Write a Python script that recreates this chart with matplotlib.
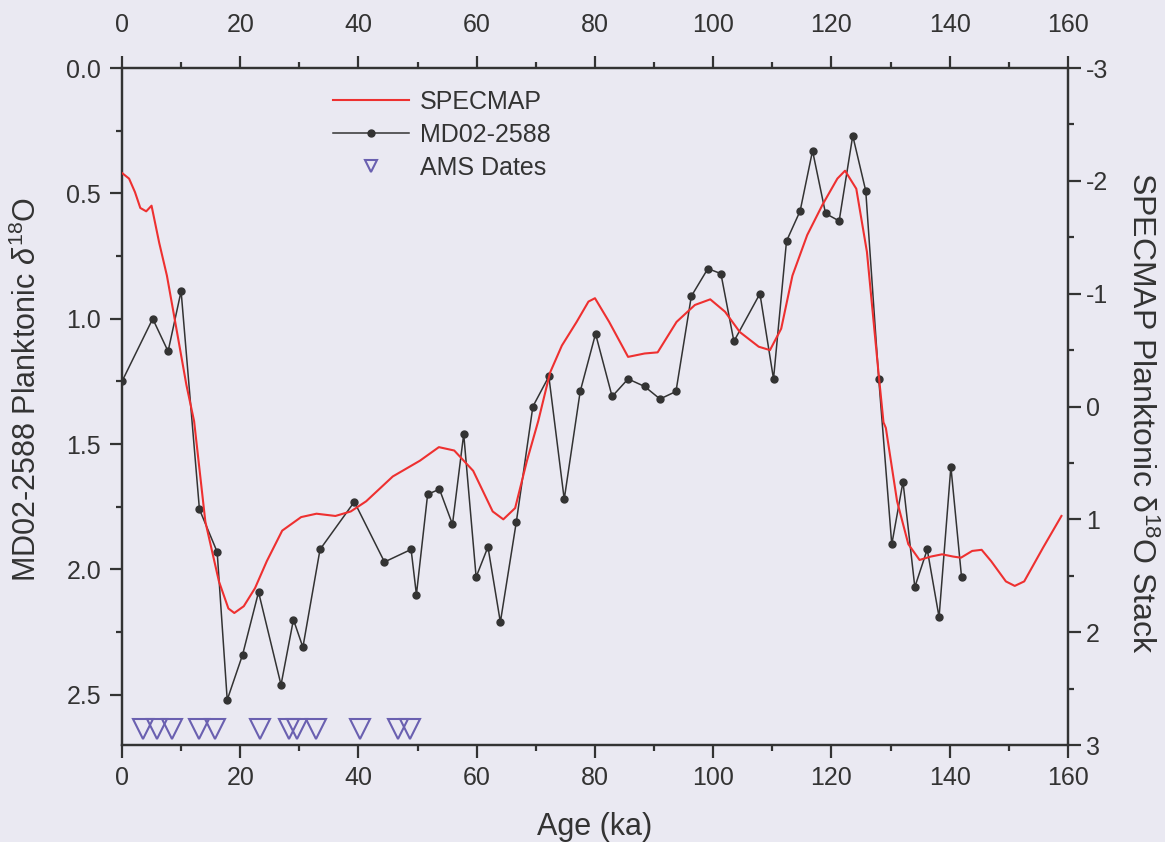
import matplotlib
matplotlib.use("Agg")
import matplotlib.pyplot as plt
from matplotlib.ticker import MultipleLocator, FormatStrFormatter
from matplotlib.lines import Line2D

plt.rcParams['font.family'] = ['Liberation Sans', 'DejaVu Sans']
plt.rcParams['mathtext.fontset'] = 'custom'
plt.rcParams['mathtext.rm'] = 'Liberation Sans'
plt.rcParams['mathtext.it'] = 'Liberation Sans:italic'
plt.rcParams['axes.unicode_minus'] = False

# MD02-2588 planktonic d18O (left axis)
md_age = [0.0, 5.2, 7.8, 10.0, 13.1, 16.1, 17.8, 20.4, 23.1, 26.9, 29.0, 30.6,
          33.5, 39.3, 44.4, 48.9, 49.8, 51.7, 53.7, 55.9, 57.8, 59.9, 61.9, 64.0,
          66.7, 69.5, 72.2, 74.8, 77.5, 80.1, 82.9, 85.6, 88.4, 91.0, 93.7, 96.3,
          99.1, 101.3, 103.5, 107.9, 110.2, 112.4, 114.7, 116.8, 119.0, 121.3,
          123.6, 125.8, 128.0, 130.2, 132.1, 134.1, 136.2, 138.2, 140.2, 142.0]
md_d18o = [1.25, 1.00, 1.13, 0.89, 1.76, 1.93, 2.52, 2.34, 2.09, 2.46, 2.20, 2.31,
           1.92, 1.73, 1.97, 1.92, 2.10, 1.70, 1.68, 1.82, 1.46, 2.03, 1.91, 2.21,
           1.81, 1.35, 1.23, 1.72, 1.29, 1.06, 1.31, 1.24, 1.27, 1.32, 1.29, 0.91,
           0.80, 0.82, 1.09, 0.90, 1.24, 0.69, 0.57, 0.33, 0.58, 0.61,
           0.27, 0.49, 1.24, 1.90, 1.65, 2.07, 1.92, 2.19, 1.59, 2.03]

# SPECMAP stack (right axis)
spec_age = [0.0, 1.2, 2.2, 3.1, 4.1, 5.0, 6.3, 7.6, 8.9, 10.9, 12.2, 14.1, 16.4,
            18.0, 19.0, 20.6, 22.5, 24.5, 27.1, 30.3, 32.9, 36.1, 38.7, 41.3,
            45.8, 50.4, 53.6, 56.2, 59.4, 62.7, 64.5, 66.5, 68.5, 70.4, 72.4,
            74.4, 76.9, 78.9, 80.0, 82.4, 85.6, 88.4, 90.6, 93.8, 96.9, 99.5,
            102.0, 104.5, 107.7, 109.6, 111.5, 113.4, 115.9, 118.5, 121.0, 122.3,
            124.2, 126.0, 127.9, 128.8, 129.2, 131.1, 133.0, 134.9, 136.8, 138.7,
            140.6, 141.9, 143.8, 145.4, 147.0, 149.5, 151.0, 152.6, 155.8, 158.9]
spec_d18o = [-2.07, -2.02, -1.90, -1.76, -1.73, -1.78, -1.45, -1.16, -0.78, -0.19,
             0.13, 1.02, 1.55, 1.79, 1.83, 1.77, 1.61, 1.37, 1.10, 0.98, 0.95,
             0.97, 0.93, 0.84, 0.62, 0.48, 0.36, 0.39, 0.57, 0.93, 1.00, 0.90,
             0.48, 0.13, -0.30, -0.54, -0.75, -0.93, -0.96, -0.75, -0.44, -0.47,
             -0.48, -0.75, -0.90, -0.95, -0.84, -0.66, -0.53, -0.50, -0.69, -1.16,
             -1.52, -1.79, -2.02, -2.09, -1.93, -1.37, -0.33, 0.14, 0.19, 0.84,
             1.22, 1.36, 1.33, 1.31, 1.33, 1.34, 1.28, 1.27, 1.37, 1.55, 1.59,
             1.55, 1.25, 0.97]

# AMS radiocarbon control points
ams_age = [3.6, 6.0, 8.5, 13.0, 15.8, 23.4, 28.3, 29.6, 32.8, 40.2, 46.7, 48.8]
ams_level = 2.635

bg = '#eae9f2'
dark = '#333333'
red = '#ee3030'
violet = '#6a60b0'

fig = plt.figure(figsize=(11.65, 8.42), dpi=100, facecolor=bg)
ax = fig.add_axes([0.1047, 0.1152, 0.812, 0.804])
ax.set_facecolor('none')
ax2 = ax.twinx()

# black core record + AMS dates on the left axis
ax.plot(md_age, md_d18o, color=dark, lw=1.1, marker='o', ms=5, zorder=3)
ax.plot(ams_age, [ams_level] * len(ams_age), linestyle='none', marker='v',
        ms=14, mfc='none', mec=violet, mew=1.5, zorder=3)

# SPECMAP curve on the right axis
ax2.plot(spec_age, spec_d18o, color=red, lw=1.5, zorder=4)

ax.set_xlim(0, 160)
ax.set_ylim(2.7, 0.0)
ax2.set_ylim(3, -3)

ax.xaxis.set_major_locator(MultipleLocator(20))
ax.xaxis.set_minor_locator(MultipleLocator(10))
ax.yaxis.set_major_locator(MultipleLocator(0.5))
ax.yaxis.set_minor_locator(MultipleLocator(0.25))
ax.yaxis.set_major_formatter(FormatStrFormatter('%.1f'))
ax2.yaxis.set_major_locator(MultipleLocator(1))
ax2.yaxis.set_minor_locator(MultipleLocator(0.5))

for a in (ax, ax2):
    for s in a.spines.values():
        s.set_linewidth(1.6)
        s.set_color(dark)

ax.tick_params(which='major', direction='out', length=9, width=1.6, color=dark,
               labelsize=18, labelcolor=dark, top=True, labeltop=False)
ax.tick_params(which='minor', direction='out', length=4, width=1.6, color=dark, top=True)
ax.tick_params(axis='x', which='major', pad=6)
ax.tick_params(axis='y', which='major', pad=6)
ax2.tick_params(which='major', direction='out', length=9, width=1.6, color=dark,
                labelsize=18, labelcolor=dark, pad=4)
ax2.tick_params(which='minor', direction='out', length=4, width=1.6, color=dark)

top = ax.secondary_xaxis('top')
top.set_xticks(range(0, 161, 20))
top.tick_params(length=0, labelsize=18, labelcolor=dark, pad=22)
top.spines['top'].set_visible(False)

ax.set_xlabel('Age (ka)', fontsize=22, color=dark)
ax.xaxis.set_label_coords(0.5, -0.099)
ax.set_ylabel(r'MD02-2588 Planktonic $\delta^{18}$O', fontsize=22, color=dark,
              va='center')
ax.yaxis.set_label_coords(-0.1, 0.525)
ax2.set_ylabel(r'SPECMAP Planktonic $\mathrm{\delta}^{18}$O Stack', fontsize=23,
               color=dark, rotation=270, va='center')
ax2.yaxis.set_label_coords(1.077, 0.49)

handles = [Line2D([], [], color=red, lw=1.5),
           Line2D([], [], color=dark, lw=1.1, marker='o', ms=5),
           Line2D([], [], linestyle='none', marker='v', ms=8, mfc='none',
                  mec=violet, mew=1.5)]
ax2.legend(handles, ['SPECMAP', 'MD02-2588', 'AMS Dates'], loc='upper left',
           bbox_to_anchor=(0.223, 0.968), frameon=False, fontsize=18,
           handlelength=3.05, handletextpad=0.44, labelspacing=0.36,
           borderpad=0, borderaxespad=0, labelcolor=dark)

fig.savefig('out.png', dpi=100, facecolor=bg)
